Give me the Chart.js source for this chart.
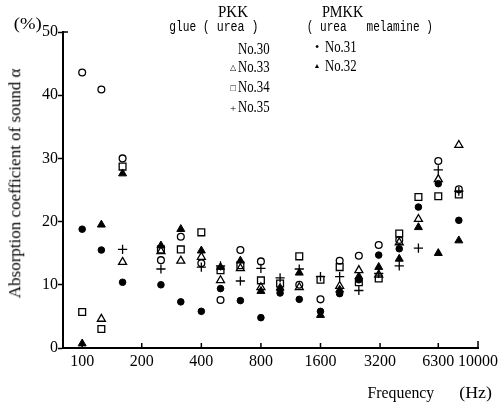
<!DOCTYPE html>
<html><head><meta charset="utf-8">
<script src="https://cdn.jsdelivr.net/npm/chart.js@4"></script>
<style>
html,body{margin:0;padding:0;background:#fff;}
#wrap{position:relative;width:499px;height:407px;overflow:hidden;background:#fff;}
canvas{position:absolute;left:0;top:0;}
.t{position:absolute;white-space:pre;color:#000;line-height:1;transform-origin:50% 50%;}
.serif{font-family:"Liberation Serif","DejaVu Serif",serif;}
.mono{font-family:"Liberation Mono","DejaVu Sans Mono",monospace;}
</style></head>
<body><div id="wrap"><canvas id="c" width="499" height="407"></canvas></div>
<script>
// ---- data ----
const freqs = [100,125,160,250,315,400,500,630,800,1000,1250,1600,2000,2500,3150,4000,5000,6300,8000];
const no30 = [43.6,40.9,30.0,13.9,17.6,13.4,7.6,15.5,13.7,null,10.0,7.7,13.8,14.6,16.3,17.1,null,29.6,25.1];
const no33 = [null,4.6,13.6,15.3,13.8,14.4,10.7,12.6,9.6,null,9.6,null,9.8,12.3,11.6,16.7,20.4,26.7,32.1];
const no34 = [5.7,3.0,28.7,15.6,15.6,18.3,12.3,13.1,10.7,10.2,14.5,10.8,12.8,10.4,11.0,18.1,23.9,24.0,24.3];
const no35 = [null,null,15.6,12.5,null,12.8,13.0,10.6,12.6,11.1,12.5,11.3,11.3,9.1,11.8,13.0,15.8,28.2,24.8];
const no31 = [18.8,15.5,10.4,10.0,7.3,5.8,9.4,7.5,4.8,8.7,7.7,5.8,8.6,10.8,14.7,15.7,22.3,26.0,20.2];
const no32 = [0.7,19.5,27.6,16.2,18.8,15.4,12.8,13.8,9.0,9.5,11.9,5.2,9.2,11.3,12.8,14.1,19.1,15.0,17.0];
const xTicks = [100,200,400,800,1600,3200,6300,10000];
const yTicks = [0,10,20,30,40,50];

function pts(vals){ const out=[]; vals.forEach((v,i)=>{ if(v!==null) out.push({x:freqs[i], y:v}); }); return out; }

const FONT = '"Liberation Serif","DejaVu Serif",serif';
const open = 'rgba(0,0,0,0)';

const tickPlugin = {
  id:'inTicks',
  afterDraw(chart){
    const ctx = chart.ctx, xs = chart.scales.x, ys = chart.scales.y;
    ctx.save();
    ctx.strokeStyle = '#000'; ctx.lineWidth = 1.5;
    xTicks.forEach(v=>{
      const px = xs.getPixelForValue(v);
      ctx.beginPath(); ctx.moveTo(px, ys.bottom); ctx.lineTo(px, ys.bottom - (v===10000?7:5)); ctx.stroke();
    });
    ctx.beginPath(); ctx.moveTo(xs.left, ys.getPixelForValue(50)); ctx.lineTo(xs.left+5, ys.getPixelForValue(50)); ctx.stroke();
    ctx.restore();
  }
};

new Chart(document.getElementById('c'), {
  type:'scatter',
  data:{ datasets:[
    {label:'No.30', data:pts(no30), pointStyle:'circle', pointRadius:3.4, pointBackgroundColor:open, pointBorderColor:'#000', pointBorderWidth:1.3},
    {label:'No.33', data:pts(no33), pointStyle:'triangle', pointRadius:4.6, pointBackgroundColor:open, pointBorderColor:'#000', pointBorderWidth:1.3},
    {label:'No.34', data:pts(no34), pointStyle:'rect', pointRadius:4.8, pointBackgroundColor:open, pointBorderColor:'#000', pointBorderWidth:1.3},
    {label:'No.35', data:pts(no35), pointStyle:'cross', pointRadius:4.6, pointBorderColor:'#000', pointBorderWidth:1.3},
    {label:'No.31', data:pts(no31), pointStyle:'circle', pointRadius:3.3, pointBackgroundColor:'#000', pointBorderColor:'#000', pointBorderWidth:1},
    {label:'No.32', data:pts(no32), pointStyle:'triangle', pointRadius:4.6, pointBackgroundColor:'#000', pointBorderColor:'#000', pointBorderWidth:1}
  ]},
  options:{
    responsive:false, animation:false, devicePixelRatio:1,
    layout:{padding:{left:0, top:32, right:21, bottom:0}},
    plugins:{legend:{display:false}, tooltip:{enabled:false}},
    scales:{
      x:{type:'logarithmic', min:80, max:10000,
        afterBuildTicks(s){ s.ticks = xTicks.map(v=>({value:v})); },
        afterFit(s){ s.height = 59; },
        ticks:{autoSkip:false, maxRotation:0, minRotation:0, padding:0, color:'#000',
          font:{family:FONT, size:16}, callback:(v)=>String(v)},
        grid:{display:false, drawTicks:true, tickLength:4},
        border:{display:true, color:'#000', width:2}
      },
      y:{type:'linear', min:0, max:50,
        afterBuildTicks(s){ s.ticks = yTicks.map(v=>({value:v})); },
        afterFit(s){ s.width = 63; },
        ticks:{padding:0, color:'#000', font:{family:FONT, size:16}},
        grid:{display:true, drawOnChartArea:false, drawTicks:true, tickLength:5, tickColor:'#000', tickWidth:1.5},
        border:{display:true, color:'#000', width:2}
      }
    }
  },
  plugins:[tickPlugin]
});

// ---- annotations (real text) ----
const wrap = document.getElementById('wrap');
function lab(text, cx, cy, size, cls, sx, rot){
  const d = document.createElement('div');
  d.className = 't ' + cls;
  d.textContent = text;
  d.style.fontSize = size + 'px';
  wrap.appendChild(d);
  const w = d.offsetWidth, h = d.offsetHeight;
  d.style.left = (cx - w/2) + 'px';
  d.style.top = (cy - h/2) + 'px';
  d.style.transform = (rot ? 'rotate(' + rot + 'deg) ' : '') + 'scaleX(' + (sx||1) + ')';
  return d;
}
lab('(%)', 27, 23, 17, 'serif', 1.1);
lab('PKK', 233, 11, 17, 'serif', 0.88);
lab('glue', 183, 27, 14, 'mono', 0.8);
lab('( urea )', 230, 27, 14, 'mono', 0.83);
lab('PMKK', 342, 11, 17, 'serif', 0.84);
lab('( urea   melamine )', 370, 27, 14, 'mono', 0.79);
lab('No.30', 254, 49, 16, 'serif', 0.8);
lab('No.33', 254, 67, 16, 'serif', 0.8);
lab('No.34', 254, 87, 16, 'serif', 0.8);
lab('No.35', 254, 107, 16, 'serif', 0.8);
lab('△', 233, 68, 8, 'serif', 1);
lab('□', 233, 88, 9, 'serif', 1);
lab('+', 233, 108, 11, 'serif', 1);
lab('•', 317, 47, 12, 'serif', 1);
lab('▲', 317, 66, 7, 'serif', 1);
lab('No.31', 341, 47, 16, 'serif', 0.8);
lab('No.32', 341, 66, 16, 'serif', 0.8);
lab('Absorption coefficient of sound α', 15, 183, 17, 'serif', 1, -90);
lab('Frequency', 401, 392, 17, 'serif', 0.93);
lab('(Hz)', 475, 392, 17, 'serif', 1.05);
</script>
</body></html>
